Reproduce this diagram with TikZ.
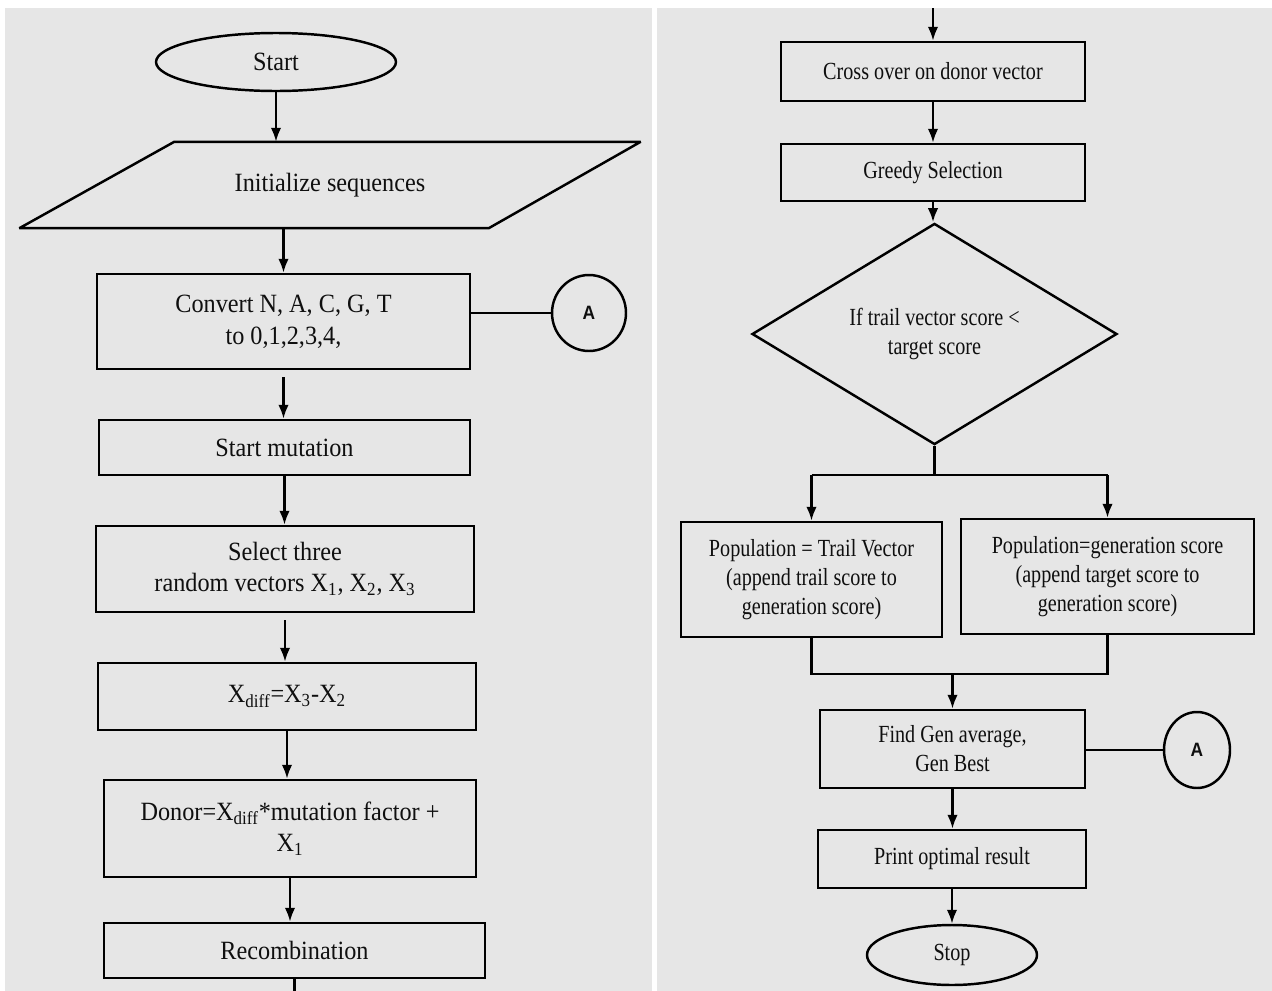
\documentclass[tikz,border=0pt]{standalone}
\usepackage{fontspec}
\setmainfont{Liberation Serif}
\newfontfamily\leftfont{Liberation Serif}[FakeStretch=0.92]
\newfontfamily\rightfont{Liberation Serif}[FakeStretch=0.82]
\newfontfamily\markfont{Liberation Sans}[FakeStretch=0.9]
\usetikzlibrary{shapes.geometric,arrows.meta}
\definecolor{panelgray}{RGB}{230,230,230}
\definecolor{inkgray}{RGB}{15,15,15}

\begin{document}
\begin{tikzpicture}[x=0.02cm, y=-0.02cm, line width=1.4pt,
    arr/.style={-{Latex[length=2.8mm,width=2.1mm]}},
    box/.style={draw, rectangle, inner sep=0pt, align=center, text=inkgray},
    lbox/.style={box, font=\leftfont\fontsize{15}{18}\selectfont},
    rbox/.style={box, font=\rightfont\fontsize{14}{16.5}\selectfont},
    term/.style={draw, ellipse, inner sep=0pt, text=inkgray},
    conn/.style={draw, ellipse, inner sep=0pt, text=inkgray, font=\markfont\bfseries\fontsize{11}{13}\selectfont}]
    \useasboundingbox (0,0) rectangle (1272,991);
    \fill[white] (0,0) rectangle (1272,991);
    \fill[panelgray] (5,8) rectangle (652,991);
    \fill[panelgray] (657,8) rectangle (1272,991);

    \node[term, font=\leftfont\fontsize{15}{18}\selectfont, minimum width=4.8cm, minimum height=1.16cm] (start) at (276,62) {Start};
    \node[rectangle, minimum width=12.38cm, minimum height=1.68cm, inner sep=0pt, text=inkgray,
          font=\leftfont\fontsize{15}{18}\selectfont] (init) at (330,185) {Initialize sequences};
    \draw[line join=bevel] (init.south west) -- ([xshift=3.1cm]init.north west) -- (init.north east) -- ([xshift=-3.04cm]init.south east) -- cycle;
    \node[lbox, minimum width=7.46cm, minimum height=1.9cm] (convert) at (283.5,321.5) {Convert N, A, C, G, T\\to 0,1,2,3,4,};
    \node[conn, minimum width=1.48cm, minimum height=1.52cm] (markA) at (589,313) {A};
    \node[lbox, minimum width=7.42cm, minimum height=1.1cm] (mutate) at (284.5,447.5) {Start mutation};
    \node[lbox, minimum width=7.56cm, minimum height=1.72cm] (select) at (285,569) {Select three\\random vectors X\textsubscript{1}, X\textsubscript{2}, X\textsubscript{3}};
    \node[lbox, minimum width=7.56cm, minimum height=1.34cm] (xdiff) at (287,696.5) {X\textsubscript{diff}=X\textsubscript{3}-X\textsubscript{2}};
    \node[lbox, minimum width=7.44cm, minimum height=1.94cm] (donor) at (290,828.5) {Donor=X\textsubscript{diff}*mutation factor +\\X\textsubscript{1}};
    \node[lbox, minimum width=7.62cm, minimum height=1.1cm] (recomb) at (294.5,950.5) {Recombination};
    \coordinate (leftend) at (294.5,991);

    \draw[arr] (start.south) -- (start.south |- init.north);
    \draw[arr] (convert.north |- init.south) -- (convert.north);
    \draw (markA.west -| convert.east) -- (markA.west);
    \draw[arr] ([yshift=-4pt]convert.south) -- (convert.south |- mutate.north);
    \draw[arr] (mutate.south) -- (mutate.south |- select.north);
    \draw[arr] ([yshift=-4pt]select.south) -- (select.south |- xdiff.north);
    \draw[arr] (xdiff.south) -- (xdiff.south |- donor.north);
    \draw[arr] (donor.south) -- (donor.south |- recomb.north);
    \draw (recomb.south) -- (leftend);

    \coordinate (righttop) at (933,8);
    \node[rbox, minimum width=6.08cm, minimum height=1.18cm] (cross) at (933,71.5) {Cross over on donor vector};
    \node[rbox, minimum width=6.08cm, minimum height=1.14cm] (greedy) at (933,172.5) {Greedy Selection};
    \node[draw, diamond, minimum width=7.3cm, minimum height=4.04cm, inner sep=0pt, align=center, text=inkgray,
          font=\rightfont\fontsize{14}{16}\selectfont] (cond) at (934.5,334) {If trail vector score <\\target score};
    \coordinate (split) at (934.5,475);
    \node[rbox, minimum width=5.22cm, minimum height=2.3cm] (popL) at (811.5,579.5) {Population = Trail Vector\\(append trail score to\\generation score)};
    \node[rbox, minimum width=5.86cm, minimum height=2.3cm] (popR) at (1107.5,576.5) {Population=generation score\\(append target score to\\generation score)};
    \coordinate (join) at (952.5,674);
    \node[rbox, minimum width=5.3cm, minimum height=1.56cm] (findgen) at (952.5,749) {Find Gen average,\\Gen Best};
    \node[conn, minimum width=1.32cm, minimum height=1.52cm] (markB) at (1197,750) {A};
    \node[rbox, minimum width=5.36cm, minimum height=1.16cm] (print) at (952,859) {Print optimal result};
    \node[term, font=\rightfont\fontsize{14}{16.5}\selectfont, minimum width=3.4cm, minimum height=1.2cm] (stop) at (952,955) {Stop};

    \draw[arr] (righttop) -- (cross.north);
    \draw[arr] (cross.south) -- (greedy.north);
    \draw[arr] (greedy.south) -- (greedy.south |- cond.north);
    \draw (cond.south) -- (split);
    \draw (popL.north |- split) -- (popR.north |- split);
    \draw[arr] (popL.north |- split) -- (popL.north);
    \draw[arr] (popR.north |- split) -- (popR.north);
    \draw (popL.south) -- (popL.south |- join) -- (popR.south |- join) -- (popR.south);
    \draw[arr] (join) -- (findgen.north);
    \draw (findgen.east |- markB.west) -- (markB.west);
    \draw[arr] (findgen.south) -- (findgen.south |- print.north);
    \draw[arr] (print.south) -- (print.south |- stop.north);
\end{tikzpicture}
\end{document}
